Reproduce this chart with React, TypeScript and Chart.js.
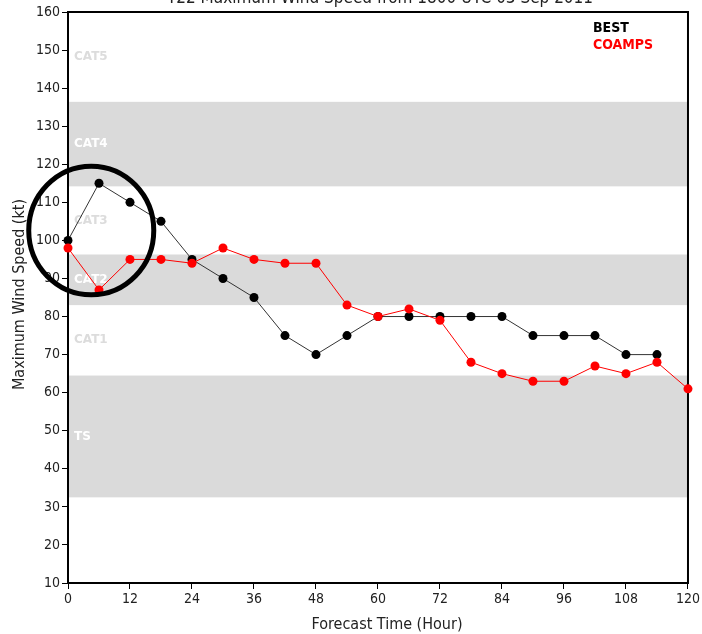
import React, { useEffect, useRef } from "react";
import { Chart, registerables } from "chart.js";

Chart.register(...registerables);

// ---- data ----
const bestHours = [0, 6, 12, 18, 24, 30, 36, 42, 48, 54, 60, 66, 72, 78, 84, 90, 96, 102, 108, 114];
const bestWind = [100, 115, 110, 105, 95, 90, 85, 75, 70, 75, 80, 80, 80, 80, 80, 75, 75, 75, 70, 70];
const coampsHours = [0, 6, 12, 18, 24, 30, 36, 42, 48, 54, 60, 66, 72, 78, 84, 90, 96, 102, 108, 114, 120];
const coampsWind = [98, 87, 95, 95, 94, 98, 95, 94, 94, 83, 80, 82, 79, 68, 65, 63, 63, 67, 65, 68, 61];

const bandLabels = ["TS", "CAT1", "CAT2", "CAT3", "CAT4", "CAT5"];
const bandLows = [32.5, 64.5, 83, 96.3, 114.2, 136.4];
const bandHighs = [64.5, 83, 96.3, 114.2, 136.4, 160];
const bandShaded = [true, false, true, false, true, false];

const xTickStep = 12;
const yTickStep = 10;
const xMin = 0, xMax = 120, yMin = 10, yMax = 160;

const titleText = "T22 Maximum Wind Speed from 1800 UTC 03 Sep 2011";
const xTitle = "Forecast Time (Hour)";
const yTitle = "Maximum Wind Speed (kt)";
const legendNames = ["BEST", "COAMPS"];
const legendColors = ["#000000", "#ff0000"];

// highlighted region (data units): center hour, center kt, radius hours, radius kt
const circleHour = 4.5;
const circleKt = 102.6;
const circleRHour = 12.1;
const circleRKt = 16.9;

const FONT = "'DejaVu Sans Condensed', 'DejaVu Sans', sans-serif";

const decorPlugin = {
  id: "decor",
  beforeDraw(chart: any) {
    const { ctx, chartArea, scales } = chart;
    const xs = scales.x, ys = scales.y;
    ctx.save();
    for (let i = 0; i < bandLabels.length; i++) {
      const yTop = ys.getPixelForValue(bandHighs[i]);
      const yBot = ys.getPixelForValue(bandLows[i]);
      if (bandShaded[i]) {
        ctx.fillStyle = "#dadada";
        ctx.fillRect(chartArea.left, yTop, chartArea.right - chartArea.left, yBot - yTop);
      }
    }
    for (let i = 0; i < bandLabels.length; i++) {
      const yMid = ys.getPixelForValue((bandHighs[i] + bandLows[i]) / 2);
      ctx.fillStyle = bandShaded[i] ? "#ffffff" : "#dcdcdc";
      ctx.font = "bold 12px 'DejaVu Sans', sans-serif";
      ctx.textAlign = "left";
      ctx.textBaseline = "middle";
      ctx.fillText(bandLabels[i], xs.getPixelForValue(xMin) + 6, yMid);
    }
    ctx.restore();
  },
  beforeDatasetsDraw(chart: any) {
    const { ctx, chartArea } = chart;
    ctx.save();
    ctx.strokeStyle = "#000";
    ctx.lineWidth = 2;
    ctx.strokeRect(chartArea.left, chartArea.top, chartArea.right - chartArea.left, chartArea.bottom - chartArea.top);
    ctx.restore();
  },
  afterDraw(chart: any) {
    const { ctx, chartArea, scales } = chart;
    const xs = scales.x, ys = scales.y;
    ctx.save();
    // title (cut at top)
    ctx.fillStyle = "#222";
    ctx.font = `17px ${FONT}`;
    ctx.textAlign = "center";
    ctx.textBaseline = "alphabetic";
    ctx.fillText(titleText, 380, 3);
    // axis titles
    ctx.font = `16px ${FONT}`;
    ctx.fillStyle = "#222";
    ctx.textBaseline = "middle";
    ctx.fillText(xTitle, (chartArea.left + chartArea.right) / 2 + 9, 625);
    ctx.save();
    ctx.translate(20, (chartArea.top + chartArea.bottom) / 2 - 3);
    ctx.rotate(-Math.PI / 2);
    ctx.fillText(yTitle, 0, 0);
    ctx.restore();
    // legend
    ctx.textAlign = "left";
    ctx.font = `bold 14px ${FONT}`;
    for (let i = 0; i < legendNames.length; i++) {
      ctx.fillStyle = legendColors[i];
      ctx.fillText(legendNames[i], 593, 28 + i * 17);
    }
    // highlight ellipse
    const cx = xs.getPixelForValue(circleHour);
    const cy = ys.getPixelForValue(circleKt);
    const rx = Math.abs(xs.getPixelForValue(circleHour + circleRHour) - cx);
    const ry = Math.abs(ys.getPixelForValue(circleKt + circleRKt) - cy);
    ctx.strokeStyle = "#000";
    ctx.lineWidth = 5;
    ctx.beginPath();
    ctx.ellipse(cx, cy, rx, ry, 0, 0, Math.PI * 2);
    ctx.stroke();
    ctx.restore();
  },
};

export default function App() {
  const ref = useRef<HTMLCanvasElement | null>(null);
  useEffect(() => {
    if (!ref.current) return;
    const chart = new Chart(ref.current, {
      type: "line",
      data: {
        datasets: [
          {
            label: "BEST",
            data: bestHours.map((h, i) => ({ x: h, y: bestWind[i] })),
            borderColor: "#333333",
            backgroundColor: "#000000",
            pointBackgroundColor: "#000000",
            pointBorderColor: "#000000",
            borderWidth: 1,
            pointRadius: 4.5,
            pointBorderWidth: 0,
            clip: false as any,
            order: 2,
          },
          {
            label: "COAMPS",
            data: coampsHours.map((h, i) => ({ x: h, y: coampsWind[i] })),
            borderColor: "#ff0000",
            backgroundColor: "#ff0000",
            pointBackgroundColor: "#ff0000",
            pointBorderColor: "#ff0000",
            borderWidth: 1,
            pointRadius: 4.5,
            pointBorderWidth: 0,
            clip: false as any,
            order: 1,
          },
        ],
      },
      options: {
        animation: false,
        responsive: true,
        maintainAspectRatio: false,
        layout: { padding: { top: 12, right: 14, left: 0, bottom: 0 } },
        plugins: { legend: { display: false }, tooltip: { enabled: false }, title: { display: false } },
        scales: {
          x: {
            type: "linear",
            min: xMin,
            max: xMax,
            ticks: { stepSize: xTickStep, color: "#222", font: { family: FONT, size: 14 }, padding: 2, maxRotation: 0 },
            grid: { drawOnChartArea: false, tickLength: 6, color: "#000", tickColor: "#000" },
            border: { display: true, color: "#000", width: 2 },
            afterFit(scale: any) { scale.height = 51; },
          },
          y: {
            type: "linear",
            min: yMin,
            max: yMax,
            ticks: { stepSize: yTickStep, color: "#222", font: { family: FONT, size: 14 }, padding: 2 },
            grid: { drawOnChartArea: false, tickLength: 6, color: "#000", tickColor: "#000" },
            border: { display: true, color: "#000", width: 2 },
            afterFit(scale: any) { scale.width = 68; },
          },
        },
      },
      plugins: [decorPlugin],
    });
    return () => chart.destroy();
  }, []);
  return (
    <div style={{ position: "fixed", left: 0, top: 0, width: 702, height: 634, background: "#fff" }}>
      <canvas ref={ref} />
    </div>
  );
}
